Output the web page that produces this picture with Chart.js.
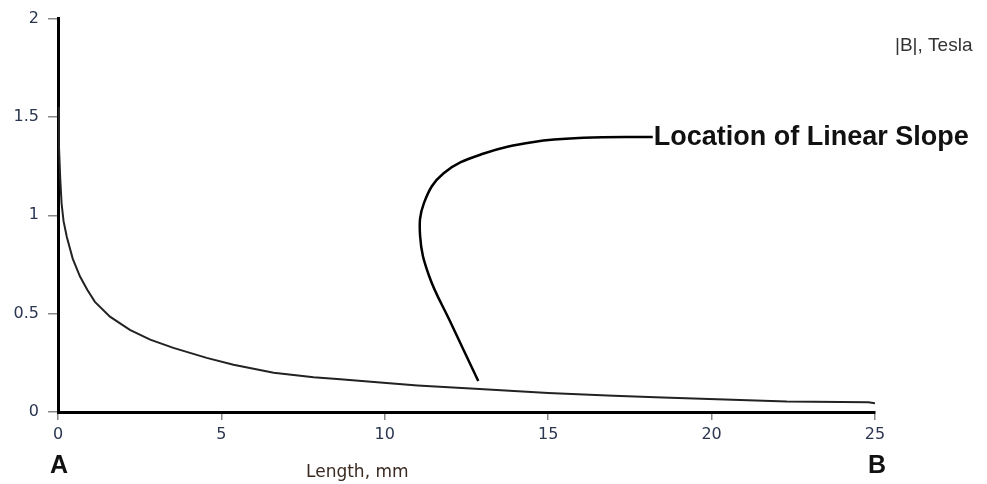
<!DOCTYPE html>
<html>
<head>
<meta charset="utf-8">
<script src="https://cdn.jsdelivr.net/npm/chart.js@4.4.1/dist/chart.umd.min.js"></script>
<style>
  html, body { margin: 0; padding: 0; background: #fff; }
  #wrap { width: 987px; height: 484px; position: relative; }
</style>
</head>
<body>
<div id="wrap"><canvas id="fieldChart"></canvas></div>
<script>
// --- field magnitude along the line A -> B ---
const lengthMm = [0, 0.03, 0.07, 0.11, 0.17, 0.27, 0.45, 0.67, 0.9, 1.13, 1.59, 2.2, 2.82, 3.53, 4.55, 5.37, 6.6, 7.82, 8.64, 9.86, 11.0, 12.9, 15.0, 17.0, 18.5, 20.4, 22.3, 24.8, 25.0];
const fieldTesla = [1.55, 1.35, 1.18, 1.06, 0.97, 0.89, 0.78, 0.69, 0.62, 0.56, 0.485, 0.418, 0.368, 0.326, 0.275, 0.24, 0.2, 0.177, 0.167, 0.15, 0.135, 0.117, 0.097, 0.082, 0.074, 0.063, 0.053, 0.05, 0.044];

// leader line for the annotation (data units)
const leaderX = [12.86, 12.0, 11.35, 11.08, 11.2, 11.8, 13.03, 14.56, 16.09, 18.2];
const leaderY = [0.158, 0.46, 0.694, 0.895, 1.063, 1.214, 1.314, 1.373, 1.394, 1.398];

const xTicks = [0, 5, 10, 15, 20, 25];
const yTicks = [0, 0.5, 1, 1.5, 2];

const annotationText = 'Location of Linear Slope';
const yUnitText = '|B|, Tesla';
const xTitleText = 'Length, mm';
const endLabels = ['A', 'B'];

const TICK_COLOR = '#2a3550';
const TICK_FONT = { family: '"DejaVu Sans", Verdana, sans-serif', size: 16 };

// extra labels painted on top of the chart
const labelsPlugin = {
    id: 'labels',
    afterDraw(chart) {
        const ctx = chart.ctx;
        const xs = chart.scales.x, ys = chart.scales.y;
        ctx.save();
        ctx.fillStyle = '#111';

        // annotation text at the end of the leader line
        ctx.font = 'bold 27px "Liberation Sans", Arial, sans-serif';
        ctx.textAlign = 'left';
        ctx.textBaseline = 'middle';
        const lx = xs.getPixelForValue(leaderX[leaderX.length - 1]);
        const ly = ys.getPixelForValue(leaderY[leaderY.length - 1]);
        ctx.fillText(annotationText, lx + 1, ly + 1);

        // unit label, top right
        ctx.fillStyle = '#333';
        ctx.font = '19px "Liberation Sans", Arial, sans-serif';
        ctx.textBaseline = 'alphabetic';
        ctx.fillText(yUnitText, 895, 51);

        // x axis title
        ctx.fillStyle = '#3a2a22';
        ctx.font = '17px "DejaVu Sans", Verdana, sans-serif';
        ctx.fillText(xTitleText, 306, 477);

        // end points A and B
        ctx.fillStyle = '#111';
        ctx.font = 'bold 25px "Liberation Sans", Arial, sans-serif';
        ctx.textAlign = 'center';
        ctx.fillText(endLabels[0], xs.getPixelForValue(xTicks[0]) + 1, 473);
        ctx.fillText(endLabels[1], xs.getPixelForValue(xTicks[xTicks.length - 1]) + 2, 473);
        ctx.restore();
    }
};

const ctx = document.getElementById('fieldChart');
new Chart(ctx, {
    type: 'scatter',
    data: {
        datasets: [
            {
                data: lengthMm.map((x, i) => ({ x: x, y: fieldTesla[i] })),
                showLine: true,
                borderColor: '#222',
                borderWidth: 2,
                pointRadius: 0,
                tension: 0
            },
            {
                data: leaderX.map((x, i) => ({ x: x, y: leaderY[i] })),
                showLine: true,
                borderColor: '#000',
                borderWidth: 2.5,
                pointRadius: 0,
                tension: 0.4
            }
        ]
    },
    options: {
        responsive: true,
        maintainAspectRatio: false,
        animation: false,
        layout: { padding: { left: 0, top: 14, right: 112, bottom: 0 } },
        plugins: { legend: { display: false }, tooltip: { enabled: false } },
        scales: {
            x: {
                type: 'linear',
                min: 0,
                max: 25,
                afterFit: s => { s.height = 72; },
                afterBuildTicks: s => { s.ticks = xTicks.map(v => ({ value: v })); },
                border: { display: true, color: '#000', width: 3 },
                grid: { drawOnChartArea: false, drawTicks: true, tickLength: 8, tickColor: '#888', lineWidth: 1.5 },
                ticks: { color: TICK_COLOR, padding: 5, font: TICK_FONT, maxRotation: 0, callback: v => String(v) }
            },
            y: {
                type: 'linear',
                min: 0,
                max: 2,
                afterFit: s => { s.width = 58; },
                afterBuildTicks: s => { s.ticks = yTicks.map(v => ({ value: v })); },
                border: { display: true, color: '#000', width: 3 },
                grid: { drawOnChartArea: false, drawTicks: true, tickLength: 10, tickColor: '#888', lineWidth: 1.5 },
                ticks: { color: TICK_COLOR, padding: 9, font: TICK_FONT, callback: v => String(v) }
            }
        }
    },
    plugins: [labelsPlugin]
});
</script>
</body>
</html>
